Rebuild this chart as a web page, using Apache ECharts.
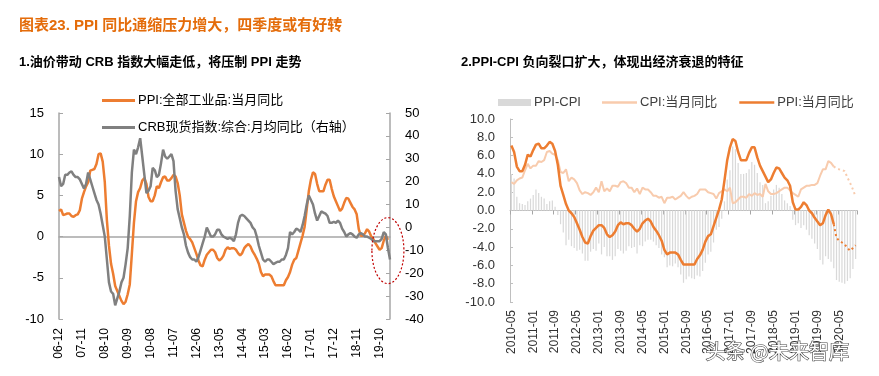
<!DOCTYPE html>
<html>
<head>
<meta charset="utf-8">
<script src="https://cdn.jsdelivr.net/npm/echarts@6/dist/echarts.min.js"></script>
<style>
  html, body { margin: 0; padding: 0; background: #fff; }
  #main { width: 879px; height: 376px; }
</style>
</head>
<body>
<div id="main"></div>
<script>
// month labels for the two category axes
function monthRange(year, month, count, shortYear) {
  const out = []
  for (let i = 0; i < count; i++) {
    const y = year + Math.floor((month - 1 + i) / 12)
    const m = ((month - 1 + i) % 12) + 1
    const yy = shortYear ? String(y).slice(2) : String(y)
    out.push(yy + '-' + (m < 10 ? '0' + m : m))
  }
  return out
}

// ---- left chart: 2006-12 .. 2020-03 ----
const leftMonths = monthRange(2006, 12, 160, true)

// PPI:全部工业品:当月同比 (left axis), ends 2020-02
const ppiLeft = [
  3.1,
  3.3, 2.6, 2.7, 2.8, 2.8, 2.5, 2.4, 2.6, 2.7, 3.2, 4.6, 5.4,
  6.1, 6.6, 8.0, 8.1, 8.2, 8.8, 10.0, 10.1, 9.1, 6.6, 2.0, -1.1,
  -3.3, -4.5, -6.0, -6.6, -7.2, -7.8, -8.2, -7.9, -7.0, -5.8, -2.1, 1.7,
  4.3, 5.4, 5.9, 6.8, 7.1, 6.4, 4.8, 4.3, 4.3, 5.0, 6.1, 5.9,
  6.6, 7.2, 7.3, 6.8, 6.8, 7.1, 7.5, 7.3, 6.5, 5.0, 2.7, 1.7,
  0.7, 0.0, -0.3, -0.7, -1.4, -2.1, -2.9, -3.5, -3.6, -2.8, -2.2, -1.9,
  -1.6, -1.6, -1.9, -2.6, -2.9, -2.7, -2.3, -1.6, -1.3, -1.5, -1.4, -1.4,
  -1.6, -2.0, -2.3, -2.0, -1.4, -1.1, -0.9, -1.2, -1.8, -2.2, -2.7, -3.3,
  -4.3, -4.8, -4.6, -4.6, -4.6, -4.8, -5.4, -5.9, -5.9, -5.9, -5.9, -5.9,
  -5.3, -4.9, -4.3, -3.4, -2.8, -2.6, -1.7, -0.8, 0.1, 1.2, 3.3, 5.5,
  6.9, 7.8, 7.6, 6.4, 5.5, 5.5, 5.5, 6.3, 6.9, 6.9, 5.8, 4.9,
  4.3, 3.7, 3.1, 3.4, 4.1, 4.7, 4.6, 4.1, 3.6, 3.3, 2.7, 0.9,
  0.1, 0.1, 0.4, 0.9, 0.6, 0.0, -0.3, -0.8, -1.2, -1.6, -1.4, -0.5,
  0.1, -0.4, null
]

// CRB现货指数:综合:月均同比 (right axis)
const crbLeft = [
  22, 18, 19, 23, 23, 24, 24.5, 23, 22, 22, 21, 19,
  17, 19, 24, 21, 18, 15, 12, 10, 6, 1, -4, -14,
  -24, -28, -29, -34, -31, -28, -24, -22, -16, -9, 5, 24,
  34, 32, 35, 39, 31, 23, 15, 16, 18, 26, 25, 22,
  23, 28, 34, 31, 30, 31, 32, 29, 16, 8, 4, 0,
  -3, -8, -11, -13, -14, -14, -15, -13, -10, -7, -4, 0,
  -2, -4, -4, -3, -1, -1, -3, -4, -4.5, -5, -4.5, -5,
  -6, -3, 2, 5, 5.5, 5, 4, 3, 2, 0, -1, -4,
  -8, -11, -14, -15, -14, -14, -15, -16, -15.5, -15, -15, -14,
  -14, -12, -9, -2, -3, -2, -0.5, -1, -2, 1, 5, 10,
  14, 12, 10, 6, 3, 5, 7, 6.5, 6, 5, 2, 2,
  2.5, 2, 3, 2, -0.5, -2, -4, -3, -2.5, -3, -4, -4.5,
  -3, -2.5, -3, -4, -4, -4.5, -5, -6, -6, -6, -6, -5,
  -2, -3, -9, -14
]

// ---- right chart: 2010-05 .. 2020-11 ----
const rightMonths = monthRange(2010, 5, 127, false)

// PPI:当月同比, actual to 2020-03 then forecast (dotted)
const ppiActual = [
  7.1, 6.4, 4.8, 4.3, 4.3, 5.0, 6.1, 5.9,
  6.6, 7.2, 7.3, 6.8, 6.8, 7.1, 7.5, 7.3, 6.5, 5.0, 2.7, 1.7,
  0.7, 0.0, -0.3, -0.7, -1.4, -2.1, -2.9, -3.5, -3.6, -2.8, -2.2, -1.9,
  -1.6, -1.6, -1.9, -2.6, -2.9, -2.7, -2.3, -1.6, -1.3, -1.5, -1.4, -1.4,
  -1.6, -2.0, -2.3, -2.0, -1.4, -1.1, -0.9, -1.2, -1.8, -2.2, -2.7, -3.3,
  -4.3, -4.8, -4.6, -4.6, -4.6, -4.8, -5.4, -5.9, -5.9, -5.9, -5.9, -5.9,
  -5.3, -4.9, -4.3, -3.4, -2.8, -2.6, -1.7, -0.8, 0.1, 1.2, 3.3, 5.5,
  6.9, 7.8, 7.6, 6.4, 5.5, 5.5, 5.5, 6.3, 6.9, 6.9, 5.8, 4.9,
  4.3, 3.7, 3.1, 3.4, 4.1, 4.7, 4.6, 4.1, 3.6, 3.3, 2.7, 0.9,
  0.1, 0.1, 0.4, 0.9, 0.6, 0.0, -0.3, -0.8, -1.2, -1.6, -1.4, -0.5,
  0.1, -0.4, -1.5
]
const ppiForecast = [-3.0, -3.3, -3.5, -3.7, -4.1, -4.4, -4.1, -3.8]

// CPI:当月同比
const cpiActual = [
  3.1, 2.9, 3.3, 3.5, 3.6, 4.4, 5.1, 4.6,
  4.9, 4.9, 5.4, 5.3, 5.5, 6.4, 6.5, 6.2, 6.1, 5.5, 4.2, 4.1,
  4.5, 3.2, 3.6, 3.4, 3.0, 2.2, 1.8, 2.0, 1.9, 1.7, 2.0, 2.5,
  2.0, 3.2, 2.1, 2.4, 2.1, 2.7, 2.7, 2.6, 3.1, 3.2, 3.0, 2.5,
  2.5, 2.0, 2.4, 1.8, 2.5, 2.3, 2.3, 2.0, 1.6, 1.6, 1.4, 1.5,
  0.8, 1.4, 1.4, 1.5, 1.2, 1.4, 1.6, 2.0, 1.6, 1.3, 1.5, 1.6,
  1.8, 2.3, 2.3, 2.3, 2.0, 1.9, 1.8, 1.3, 1.9, 2.1, 2.3, 2.1,
  2.5, 0.8, 0.9, 1.2, 1.5, 1.5, 1.4, 1.8, 1.6, 1.9, 1.7, 1.8,
  1.5, 2.9, 2.1, 1.8, 1.8, 1.9, 2.1, 2.3, 2.5, 2.5, 2.2, 1.9,
  1.7, 1.5, 2.3, 2.5, 2.7, 2.7, 2.8, 2.8, 3.0, 3.8, 4.5, 4.5,
  5.4, 5.2, 4.8
]
const cpiForecast = [4.6, 4.5, 4.4, 4.3, 3.6, 3.0, 2.3, 1.5]

// PPI-CPI bars
const ppiCpiGap = [
  4.0, 3.5, 1.5, 0.8, 0.7, 0.6, 1.0, 1.3,
  1.7, 2.3, 1.9, 1.5, 1.3, 0.7, 1.0, 1.1, 0.4, -0.5, -1.5, -2.4,
  -3.8, -3.2, -3.9, -4.1, -4.4, -4.3, -4.7, -5.5, -5.5, -4.5, -4.2, -4.4,
  -3.6, -4.8, -4.0, -5.0, -5.0, -5.4, -5.0, -4.2, -4.4, -4.7, -4.4, -3.9,
  -4.1, -4.0, -4.7, -3.8, -3.9, -3.4, -3.2, -3.2, -3.4, -3.8, -4.1, -4.8,
  -5.1, -6.2, -6.0, -6.1, -5.8, -6.2, -7.0, -7.9, -7.5, -7.2, -7.4, -7.5,
  -7.1, -7.2, -6.6, -5.7, -4.8, -4.5, -3.5, -2.1, -1.8, -0.9, 1.0, 3.4,
  4.4, 7.0, 6.7, 5.2, 4.0, 4.0, 4.1, 4.5, 5.3, 5.0, 4.1, 3.1,
  2.8, 0.8, 1.0, 1.6, 2.3, 2.8, 2.5, 1.8, 1.1, 0.8, 0.5, -1.0,
  -1.6, -1.4, -1.9, -1.6, -2.1, -2.7, -3.1, -3.6, -4.2, -5.4, -5.9, -5.0,
  -5.3, -5.6, -6.3, -7.6, -7.8, -7.9, -8.0, -7.7, -7.4, -6.4, -5.3
]

// split actual / forecast into solid + dotted series
function solidPart(actual, total) {
  return actual.concat(new Array(total - actual.length).fill(null))
}
function dottedPart(actual, forecast) {
  const lead = new Array(actual.length - 1).fill(null)
  return lead.concat([actual[actual.length - 1]], forecast)
}

const ORANGE = '#ED7D31'
const GREY = '#808080'
const CPI_COLOR = '#F8CBAD'
const BAR_COLOR = '#D9D9D9'
const FONT = 'Liberation Sans, "Noto Sans CJK SC", sans-serif'

const chart = echarts.init(document.getElementById('main'), null, { renderer: 'canvas' })

const legendText = { fontSize: 13, fontFamily: FONT, padding: [0, 0, 0, -2] }

const option = {
  animation: false,
  backgroundColor: '#fff',
  textStyle: { fontFamily: FONT },
  title: [
    {
      text: '图表23. PPI 同比通缩压力增大，四季度或有好转',
      left: 14, top: 13,
      textStyle: { color: '#E46C0A', fontSize: 15, fontWeight: 'bold', fontFamily: FONT }
    },
    {
      text: '1.油价带动 CRB 指数大幅走低，将压制 PPI 走势',
      left: 14, top: 51,
      textStyle: { color: '#000', fontSize: 13, fontWeight: 'bold', fontFamily: FONT }
    },
    {
      text: '2.PPI-CPI 负向裂口扩大，体现出经济衰退的特征',
      left: 456, top: 51,
      textStyle: { color: '#000', fontSize: 13, fontWeight: 'bold', fontFamily: FONT }
    }
  ],
  legend: [
    {
      data: [
        { name: 'PPI:全部工业品:当月同比', icon: 'rect' },
        { name: 'CRB现货指数:综合:月均同比（右轴）', icon: 'rect' }
      ],
      orient: 'vertical',
      left: 97, top: 89,
      itemWidth: 33, itemHeight: 3, itemGap: 14,
      textStyle: Object.assign({ color: '#000' }, legendText)
    },
    {
      data: [{ name: 'PPI-CPI', icon: 'rect' }],
      left: 493, top: 91,
      itemWidth: 33, itemHeight: 7,
      textStyle: Object.assign({ color: '#404040' }, legendText)
    },
    {
      data: [
        { name: 'CPI:当月同比', icon: 'rect' },
        { name: 'PPI:当月同比', icon: 'rect' }
      ],
      left: 597, top: 91,
      itemWidth: 35, itemHeight: 2.5, itemGap: 22,
      textStyle: Object.assign({ color: '#404040' }, legendText)
    }
  ],
  grid: [
    { left: 59, right: 489, top: 113, bottom: 57 },
    { left: 510, right: 22, top: 119, bottom: 74 }
  ],
  xAxis: [
    // 0: left labels
    {
      type: 'category', gridIndex: 0, data: leftMonths, boundaryGap: false,
      position: 'bottom',
      axisLine: { show: false, onZero: false },
      axisTick: { show: false },
      axisLabel: { interval: 10, rotate: 90, margin: 9, fontSize: 12, color: '#000' }
    },
    // 1: left zero line
    {
      type: 'category', gridIndex: 0, data: leftMonths, boundaryGap: false,
      position: 'top',
      axisLine: { show: true, onZero: true, lineStyle: { color: '#A6A6A6', width: 1.5 } },
      axisTick: { show: false },
      axisLabel: { show: false }
    },
    // 2: right labels
    {
      type: 'category', gridIndex: 1, data: rightMonths, boundaryGap: true,
      position: 'bottom',
      axisLine: { show: false, onZero: false },
      axisTick: { show: false },
      axisLabel: { interval: 7, rotate: 90, margin: 8, fontSize: 12, color: '#333' }
    },
    // 3: right zero line with ticks
    {
      type: 'category', gridIndex: 1, data: rightMonths, boundaryGap: true,
      position: 'top',
      axisLine: { show: true, onZero: true, lineStyle: { color: '#BFBFBF', width: 1 } },
      axisTick: { show: true, inside: true, interval: 7, length: 4, lineStyle: { color: '#A6A6A6' } },
      axisLabel: { show: false }
    }
  ],
  yAxis: [
    {
      type: 'value', gridIndex: 0, min: -10, max: 15, interval: 5, position: 'left',
      axisLine: { show: true, lineStyle: { color: '#A6A6A6', width: 1.5 } },
      axisTick: { show: true, inside: true, length: 4, lineStyle: { color: '#A6A6A6' } },
      axisLabel: { margin: 15, fontSize: 13, color: '#000' },
      splitLine: { show: false }
    },
    {
      type: 'value', gridIndex: 0, min: -40, max: 50, interval: 10, position: 'right',
      axisLine: { show: true, lineStyle: { color: '#A6A6A6', width: 1.5 } },
      axisTick: { show: true, inside: true, length: 4, lineStyle: { color: '#A6A6A6' } },
      axisLabel: { margin: 15, fontSize: 13, color: '#000' },
      splitLine: { show: false }
    },
    {
      type: 'value', gridIndex: 1, min: -10, max: 10, interval: 2, position: 'left',
      axisLine: { show: true, lineStyle: { color: '#BFBFBF', width: 1 } },
      axisTick: { show: true, inside: true, length: 3, lineStyle: { color: '#BFBFBF' } },
      axisLabel: { margin: 15, fontSize: 13, color: '#333', formatter: (v) => v.toFixed(1) },
      splitLine: { show: false }
    }
  ],
  series: [
    {
      name: 'PPI:全部工业品:当月同比', type: 'line', xAxisIndex: 0, yAxisIndex: 0,
      data: ppiLeft, symbol: 'none', connectNulls: false,
      lineStyle: { color: ORANGE, width: 2.5 }, itemStyle: { color: ORANGE }
    },
    {
      name: 'CRB现货指数:综合:月均同比（右轴）', type: 'line', xAxisIndex: 0, yAxisIndex: 1,
      data: crbLeft, symbol: 'none',
      lineStyle: { color: GREY, width: 2.5 }, itemStyle: { color: GREY }
    },
    {
      name: 'PPI-CPI', type: 'bar', xAxisIndex: 2, yAxisIndex: 2,
      data: ppiCpiGap, barWidth: '45%',
      itemStyle: { color: BAR_COLOR }
    },
    {
      name: 'CPI:当月同比', type: 'line', xAxisIndex: 2, yAxisIndex: 2,
      data: solidPart(cpiActual, rightMonths.length), symbol: 'none',
      lineStyle: { color: CPI_COLOR, width: 2 }, itemStyle: { color: CPI_COLOR }
    },
    {
      name: 'CPI预测', type: 'line', xAxisIndex: 2, yAxisIndex: 2,
      data: dottedPart(cpiActual, cpiForecast), symbol: 'none',
      lineStyle: { color: CPI_COLOR, width: 2, type: [2, 3] }
    },
    {
      name: 'PPI:当月同比', type: 'line', xAxisIndex: 2, yAxisIndex: 2,
      data: solidPart(ppiActual, rightMonths.length), symbol: 'none',
      lineStyle: { color: ORANGE, width: 2.5 }, itemStyle: { color: ORANGE }
    },
    {
      name: 'PPI预测', type: 'line', xAxisIndex: 2, yAxisIndex: 2,
      data: dottedPart(ppiActual, ppiForecast), symbol: 'none',
      lineStyle: { color: ORANGE, width: 2, type: [2, 3] }
    }
  ]
}

chart.setOption(option)

// red dotted ellipse around the latest months of the left chart
const center = chart.convertToPixel({ xAxisIndex: 0, yAxisIndex: 0 }, [158, -1.7])
chart.setOption({
  graphic: [
    {
      type: 'ellipse',
      shape: { cx: center[0], cy: center[1], rx: 16, ry: 33 },
      style: { fill: 'none', stroke: '#C00000', lineWidth: 1.2, lineDash: [2, 2] },
      z: 100
    },
    {
      type: 'text',
      left: 705, top: 341,
      style: {
        text: '头条 @未来智库',
        fill: '#fff', stroke: '#444', lineWidth: 1.2,
        font: '20px "Noto Sans CJK SC", sans-serif'
      },
      z: 100
    }
  ]
})
</script>
</body>
</html>
